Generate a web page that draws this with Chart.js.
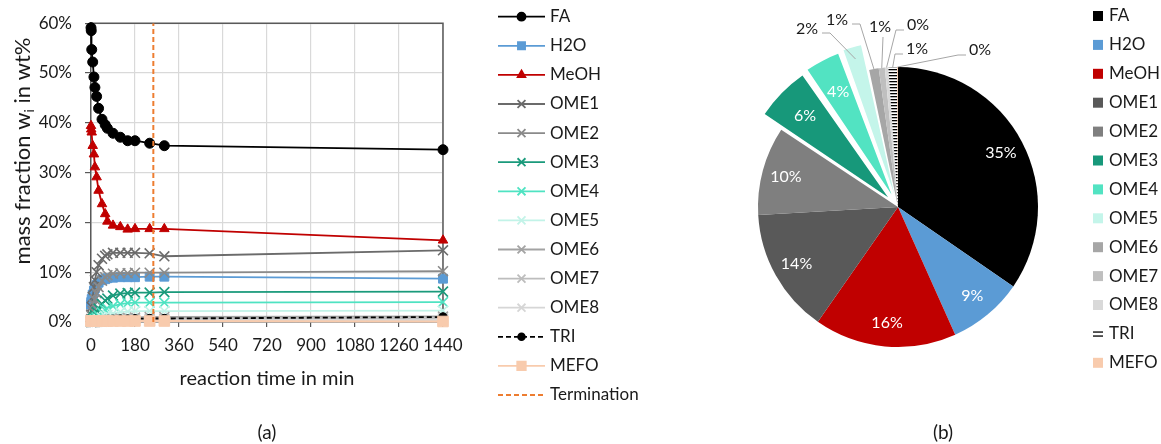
<!DOCTYPE html>
<html>
<head>
<meta charset="utf-8">
<script src="https://cdn.jsdelivr.net/npm/chart.js@4.4.0/dist/chart.umd.min.js"></script>
<style>
body { margin: 0; background: #fff; width: 1161px; height: 444px; overflow: hidden; position: relative; }
#lineChart { position: absolute; left: 0; top: 0; }
#pieChart { position: absolute; left: 700px; top: 0; }
</style>
</head>
<body>
<canvas id="lineChart" width="700" height="444"></canvas>
<canvas id="pieChart" width="461" height="444"></canvas>
<script>
// sample times in min
var times = [0, 1, 3, 7, 12, 16, 23, 31, 45, 58, 67, 90, 120, 150, 180, 240, 300, 1440];
var terminationTime = 255;

// mass fractions in wt%
var fa   = [59.1, 58.5, 54.7, 52.2, 49.2, 47.1, 45.3, 42.9, 40.7, 39.6, 38.9, 37.9, 37.1, 36.4, 36.4, 35.9, 35.4, 34.6];
var h2o  = [3.5, 4.0, 4.6, 5.5, 6.3, 6.8, 7.4, 7.9, 8.4, 8.6, 8.8, 8.9, 9.0, 9.0, 9.0, 9.1, 9.1, 8.7];
var meoh = [39.4, 38.7, 38.1, 35.4, 33.7, 31.1, 29.1, 26.4, 23.7, 21.7, 20.2, 19.4, 19.1, 18.6, 18.7, 18.7, 18.7, 16.4];
var ome1 = [0.5, 1.5, 3.0, 5.0, 7.0, 8.4, 10.0, 11.4, 12.7, 13.3, 13.6, 13.9, 13.9, 13.9, 13.9, 13.8, 13.2, 14.4];
var ome2 = [0.2, 0.6, 1.2, 2.2, 3.5, 4.5, 5.8, 7.0, 8.3, 9.0, 9.4, 9.7, 9.8, 9.8, 9.9, 9.9, 9.9, 10.2];
var ome3 = [0.0, 0.1, 0.3, 0.6, 1.0, 1.4, 2.0, 2.7, 3.6, 4.3, 4.7, 5.3, 5.7, 5.8, 5.9, 5.9, 6.0, 6.1];
var ome4 = [0.0, 0.0, 0.1, 0.2, 0.4, 0.6, 0.9, 1.3, 1.9, 2.4, 2.7, 3.2, 3.6, 3.8, 3.9, 3.9, 3.9, 4.0];
var ome5 = [0.0, 0.0, 0.0, 0.1, 0.15, 0.25, 0.4, 0.6, 0.9, 1.2, 1.4, 1.7, 2.0, 2.1, 2.2, 2.2, 2.2, 2.3];
var ome6 = [0.0, 0.0, 0.0, 0.0, 0.05, 0.05, 0.1, 0.15, 0.25, 0.35, 0.4, 0.55, 0.7, 0.8, 0.9, 1.0, 1.0, 1.1];
var ome7 = [0.0, 0.0, 0.0, 0.0, 0.0, 0.0, 0.05, 0.1, 0.15, 0.2, 0.25, 0.35, 0.45, 0.5, 0.55, 0.6, 0.6, 0.7];
var ome8 = [0.0, 0.0, 0.0, 0.0, 0.0, 0.0, 0.0, 0.05, 0.05, 0.1, 0.1, 0.15, 0.2, 0.25, 0.3, 0.3, 0.3, 0.4];
var tri  = [0.1, 0.1, 0.15, 0.2, 0.25, 0.3, 0.35, 0.4, 0.45, 0.5, 0.5, 0.55, 0.6, 0.6, 0.65, 0.7, 0.7, 1.0];
var mefo = [0.2, 0.2, 0.2, 0.2, 0.2, 0.2, 0.2, 0.2, 0.2, 0.2, 0.2, 0.2, 0.2, 0.2, 0.2, 0.2, 0.2, 0.1];

var seriesNames = ['FA', 'H2O', 'MeOH', 'OME1', 'OME2', 'OME3', 'OME4', 'OME5', 'OME6', 'OME7', 'OME8', 'TRI', 'MEFO'];
var seriesValues = [fa, h2o, meoh, ome1, ome2, ome3, ome4, ome5, ome6, ome7, ome8, tri, mefo];
var yTicks = [0, 10, 20, 30, 40, 50, 60];
var xTicks = [0, 180, 360, 540, 720, 900, 1080, 1260, 1440];

// styles
var lineColors = ['#000000', '#5b9bd5', '#c00000', '#6b6b6b', '#8a8a8a', '#1a9a7b', '#4fe3c2', '#c2f3e8', '#a3a3a3', '#bdbdbd', '#d6d6d6', '#000000', '#f8cbad'];
var pieColors  = ['#000000', '#5b9bd5', '#c00000', '#595959', '#7f7f7f', '#17987a', '#52e3c2', '#c4f5ea', '#a6a6a6', '#bfbfbf', '#d9d9d9', null, '#f8cbad'];
var markers = ['circle', 'rect', 'triangle', 'crossRot', 'crossRot', 'crossRot', 'crossRot', 'crossRot', 'crossRot', 'crossRot', 'crossRot', 'circle', 'rect'];
var markerSizes = [5, 6.3, 5.5, 7, 7, 7, 7, 7, 7, 7, 7, 4.2, 7.5];
var FONT = 'Lato, "Open Sans", sans-serif';
var TEXT = '#1a1a1a';

function marker(ctx, style, r, x, y, color) {
    ctx.fillStyle = color;
    ctx.strokeStyle = color;
    Chart.helpers.drawPoint(ctx, {pointStyle: style, radius: r, rotation: 0, borderWidth: style === 'crossRot' ? 1.5 : 1}, x, y);
}

// ---------- line chart ----------
var datasets = seriesNames.map(function(name, i) {
    return {
        label: name,
        data: times.map(function(t, k) { return {x: t, y: seriesValues[i][k]}; }),
        borderColor: lineColors[i],
        backgroundColor: lineColors[i],
        pointBorderColor: lineColors[i],
        pointBackgroundColor: lineColors[i],
        pointStyle: markers[i],
        pointRadius: markerSizes[i],
        pointBorderWidth: markers[i] === 'crossRot' ? 1.6 : 1,
        borderWidth: 1.8,
        borderDash: name === 'TRI' ? [5, 3] : [],
        tension: 0,
        clip: false,
        order: seriesNames.length - i + 1
    };
});
datasets.push({
    label: 'Termination',
    data: [{x: terminationTime, y: 0}, {x: terminationTime, y: 60}],
    borderColor: '#ed7d31',
    borderWidth: 2,
    borderDash: [5, 3],
    pointRadius: 0,
    order: 0
});

var lineExtras = {
    id: 'lineExtras',
    beforeDatasetsDraw: function(chart) {
        var ctx = chart.ctx, a = chart.chartArea;
        ctx.save();
        ctx.strokeStyle = '#595959';
        ctx.lineWidth = 1.5;
        ctx.beginPath();
        ctx.moveTo(a.left, a.top);
        ctx.lineTo(a.right, a.top);
        ctx.lineTo(a.right, a.bottom);
        ctx.stroke();
        ctx.restore();
    },
    afterDraw: function(chart) {
        var ctx = chart.ctx, a = chart.chartArea;
        ctx.save();
        // legend
        ctx.font = '17px ' + FONT;
        ctx.textBaseline = 'middle';
        chart.data.datasets.forEach(function(ds, i) {
            var y = 16.7 + i * 29.1;
            var x0 = a.right + 55, x1 = a.right + 102;
            ctx.strokeStyle = ds.borderColor;
            ctx.lineWidth = 1.8;
            ctx.setLineDash(ds.borderDash || []);
            ctx.beginPath();
            ctx.moveTo(x0, y);
            ctx.lineTo(x1, y);
            ctx.stroke();
            ctx.setLineDash([]);
            if (ds.pointRadius) marker(ctx, ds.pointStyle, ds.pointRadius * 0.8, (x0 + x1) / 2, y, ds.borderColor);
            ctx.fillStyle = TEXT;
            ctx.textAlign = 'left';
            ctx.fillText(ds.label, a.right + 107, y);
        });
        // y axis title with subscript
        ctx.translate(23, 151);
        ctx.rotate(-Math.PI / 2);
        var big = '22px ' + FONT, small = '14px ' + FONT;
        var p1 = 'mass fraction w', p2 = 'i', p3 = ' in wt%';
        ctx.font = big; var w1 = ctx.measureText(p1).width, w3 = ctx.measureText(p3).width;
        ctx.font = small; var w2 = ctx.measureText(p2).width;
        var sx = -(w1 + w2 + w3) / 2;
        ctx.fillStyle = TEXT;
        ctx.textAlign = 'left';
        ctx.font = big; ctx.fillText(p1, sx, 0);
        ctx.font = small; ctx.fillText(p2, sx + w1, 6);
        ctx.font = big; ctx.fillText(p3, sx + w1 + w2, 0);
        ctx.setTransform(1, 0, 0, 1, 0, 0);
        // x title and panel label
        ctx.textAlign = 'center';
        ctx.font = '20px ' + FONT;
        ctx.fillText('reaction time in min', (a.left + a.right) / 2, 379);
        ctx.font = '19px ' + FONT;
        ctx.fillText('(a)', (a.left + a.right) / 2, 433);
        ctx.restore();
    }
};

new Chart(document.getElementById('lineChart').getContext('2d'), {
    type: 'line',
    data: {datasets: datasets},
    options: {
        responsive: false,
        animation: false,
        devicePixelRatio: 1,
        layout: {padding: {left: 0, top: 21, right: 257, bottom: 62}},
        plugins: {legend: {display: false}, tooltip: {enabled: false}},
        scales: {
            x: {
                type: 'linear', min: 0, max: 1440,
                afterBuildTicks: function(s) { s.ticks = xTicks.map(function(v) { return {value: v}; }); },
                afterFit: function(s) { s.height = 60; },
                ticks: {font: {family: FONT, size: 17}, color: TEXT, padding: 8, maxRotation: 0, autoSkip: false,
                        callback: function(v) { return String(v); }},
                grid: {color: '#d9d9d9', lineWidth: 1.2, tickColor: '#595959', tickLength: 5},
                border: {color: '#595959', width: 1.5}
            },
            y: {
                min: 0, max: 60,
                afterBuildTicks: function(s) { s.ticks = yTicks.map(function(v) { return {value: v}; }); },
                afterFit: function(s) { s.width = 91; },
                ticks: {font: {family: FONT, size: 17}, color: TEXT, padding: 13, callback: function(v) { return v + '%'; }},
                grid: {color: '#d9d9d9', lineWidth: 1.2, tickColor: '#595959', tickLength: 6},
                border: {color: '#595959', width: 1.5}
            }
        }
    },
    plugins: [lineExtras]
});

// ---------- pie chart (values at 1440 min) ----------
var pieValues = seriesValues.map(function(s) { return s[s.length - 1]; });
var pieTotal = pieValues.reduce(function(a, b) { return a + b; }, 0);

var stripe = document.createElement('canvas');
stripe.width = 4; stripe.height = 3;
var sctx = stripe.getContext('2d');
sctx.fillStyle = '#ffffff'; sctx.fillRect(0, 0, 4, 3);
sctx.fillStyle = '#000000'; sctx.fillRect(0, 0, 4, 1.3);
var stripePattern = sctx.createPattern(stripe, 'repeat');
pieColors[11] = stripePattern;

var explode = [0, 0, 0, 0, 0, 56, 56, 56, 0, 0, 0, 0, 0];
// callout label offsets from pie centre for the small slices, and which side the leader starts
var callouts = {7: [-91, -178, 'right'], 8: [-61, -187, 'right'], 9: [-18, -180, 'bottom'], 10: [20, -182, 'left'], 11: [19, -158, 'left'], 12: [82, -157, 'left']};

var pieExtras = {
    id: 'pieExtras',
    afterDatasetsDraw: function(chart) {
        var ctx = chart.ctx;
        var meta = chart.getDatasetMeta(0);
        ctx.save();
        ctx.textBaseline = 'middle';
        ctx.textAlign = 'center';
        ctx.font = '16px ' + FONT;
        meta.data.forEach(function(arc, i) {
            var p = arc.getProps(['x', 'y', 'startAngle', 'endAngle', 'outerRadius'], true);
            var mid = (p.startAngle + p.endAngle) / 2;
            var shift = explode[i] / 4;
            var label = Math.round(pieValues[i] / pieTotal * 100) + '%';
            var c = callouts[i];
            if (!c) {
                var r = p.outerRadius * 0.83 + shift;
                ctx.fillStyle = '#ffffff';
                ctx.fillText(label, p.x + Math.cos(mid) * r, p.y + Math.sin(mid) * r);
                return;
            }
            var lx = p.x + c[0], ly = p.y + c[1];
            var ex = p.x + Math.cos(mid) * (p.outerRadius + shift);
            var ey = p.y + Math.sin(mid) * (p.outerRadius + shift);
            var ax, ay, bx, by;
            if (c[2] === 'right') { ax = lx + 15; ay = ly + 4; bx = ax + 8; by = ay; }
            else if (c[2] === 'left') { ax = lx - 14; ay = ly + 5; bx = ax - 8; by = ay; }
            else { ax = lx + 3; ay = ly + 10; bx = ax; by = ay; }
            ctx.strokeStyle = '#a6a6a6';
            ctx.lineWidth = 1;
            ctx.beginPath();
            ctx.moveTo(ax, ay);
            ctx.lineTo(bx, by);
            ctx.lineTo(ex, ey);
            ctx.stroke();
            ctx.fillStyle = TEXT;
            ctx.fillText(label, lx, ly);
        });
        // legend
        ctx.textAlign = 'left';
        ctx.font = '17px ' + FONT;
        chart.data.labels.forEach(function(name, i) {
            var y = 16 + i * 28.9;
            if (i === 11) {
                ctx.fillStyle = '#000000';
                ctx.fillRect(393, y - 2.5, 10, 1.3);
                ctx.fillRect(393, y + 1.5, 10, 1.3);
            } else {
                ctx.fillStyle = pieColors[i];
                ctx.fillRect(393, y - 5, 10, 10);
            }
            ctx.fillStyle = TEXT;
            ctx.fillText(name, 409, y);
        });
        ctx.textAlign = 'center';
        ctx.font = '19px ' + FONT;
        ctx.fillText('(b)', 243, 433);
        ctx.restore();
    }
};

new Chart(document.getElementById('pieChart').getContext('2d'), {
    type: 'pie',
    data: {
        labels: seriesNames,
        datasets: [{
            data: pieValues,
            backgroundColor: pieColors,
            borderWidth: 0,
            offset: explode,
            radius: 140
        }]
    },
    options: {
        responsive: false,
        animation: false,
        devicePixelRatio: 1,
        layout: {padding: {left: 20, right: 85, top: 20, bottom: 50}},
        plugins: {legend: {display: false}, tooltip: {enabled: false}}
    },
    plugins: [pieExtras]
});
</script>
</body>
</html>
